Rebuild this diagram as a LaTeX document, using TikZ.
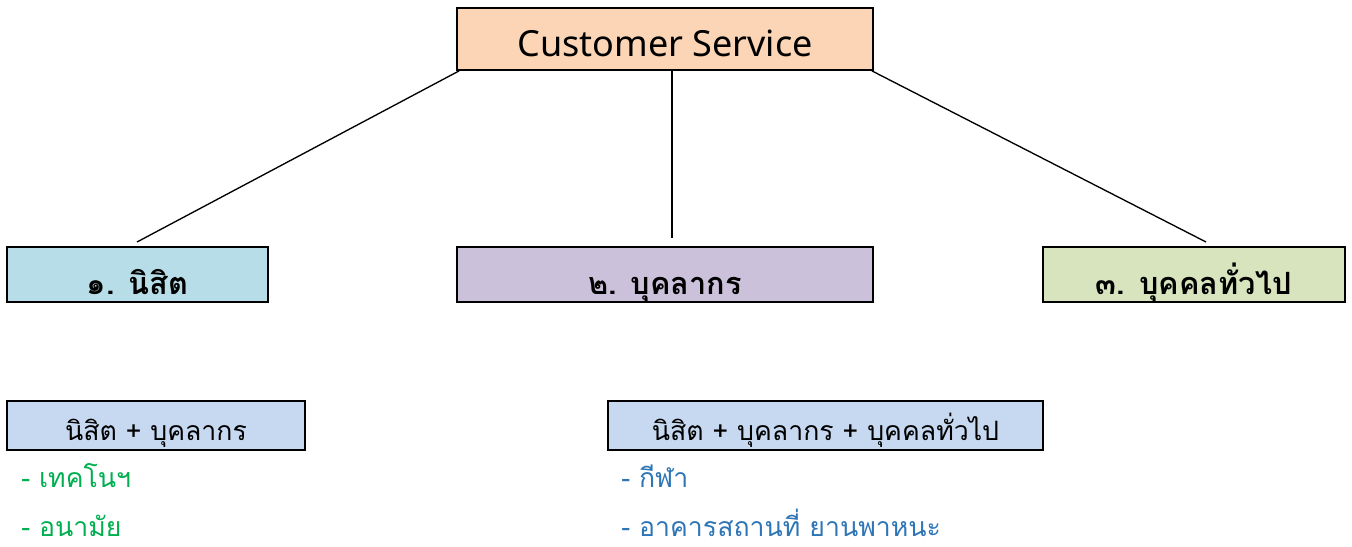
\documentclass[tikz,border=0pt]{standalone}
\usepackage{fontspec}
\setmainfont{Loma}[Script=Thai]
\newfontfamily\latinfont{Noto Sans}
\usepackage{xcolor}
\usetikzlibrary{positioning}

\definecolor{peach}{HTML}{FBD5B5}
\definecolor{skyblue}{HTML}{B7DEE8}
\definecolor{lilac}{HTML}{CCC1DA}
\definecolor{olive}{HTML}{D7E4BD}
\definecolor{paleblue}{HTML}{C6D9F1}
\definecolor{textgreen}{HTML}{00B050}
\definecolor{textblue}{HTML}{2E75B6}

\tikzset{
  groupbox/.style={draw, line width=1.3pt, minimum height=41pt, inner sep=0pt, text height=29.5pt, text depth=0pt, font=\fontsize{23}{27}\selectfont\bfseries},
  sharedbox/.style={draw, line width=1.3pt, fill=paleblue, minimum height=36.75pt, inner sep=0pt, text height=21.75pt, text depth=0pt, font=\fontsize{20}{24}\selectfont},
  item/.style={anchor=base west, inner sep=0pt, font=\fontsize{20}{24}\selectfont}
}

\begin{document}
\begin{tikzpicture}[x=0.75pt, y=-0.75pt]
\useasboundingbox (0,0) rectangle (1352,546);

%box
\node [draw, line width=1.3pt, fill=peach, minimum width=312pt, minimum height=46.5pt, inner sep=0pt, text height=25.5pt, text depth=0pt, font=\latinfont\fontsize{27}{32}\selectfont] (cs) at (665,39) {Customer Service};
\node [groupbox, fill=skyblue, minimum width=195.75pt] (student) at (137.5,274.5) {๑. นิสิต};
\node [groupbox, fill=lilac, minimum width=312pt] (staff) at (665,274.5) {๒. บุคลากร};
\node [groupbox, fill=olive, minimum width=226.5pt] (public) at (1194,274.5) {๓. บุคคลทั่วไป};

%lines
\coordinate (a1) at (137,242);
\coordinate (a2) at (672,238);
\coordinate (a3) at (1206,242);
\draw [line width=1pt] (cs.south west) ++(3,0) -- (a1);
\draw [line width=2pt] (cs.south) ++(7,0) -- (a2);
\draw [line width=1pt] (cs.south east) ++(-2,0) -- (a3);

%shared
\node [sharedbox, minimum width=223.5pt] (sharetwo) at (156,425.5) {นิสิต + บุคลากร};
\node [sharedbox, minimum width=326.25pt] (sharethree) at (825.5,425.5) {นิสิต + บุคลากร + บุคคลทั่วไป};

%labels
\node [item, textgreen] (tech) at (21,487) {- เทคโนฯ};
\node [item, textgreen] (health) at (21,536) {- อนามัย};
\node [item, textblue] (sport) at (621,487) {- กีฬา};
\node [item, textblue] (place) at (621,536) {- อาคารสถานที่ ยานพาหนะ};

\end{tikzpicture}
\end{document}
